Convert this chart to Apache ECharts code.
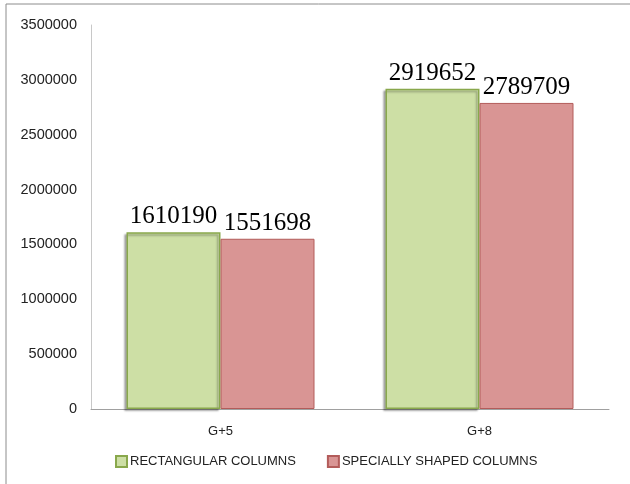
<!DOCTYPE html>
<html>
<head>
<meta charset="utf-8">
<script src="https://cdn.jsdelivr.net/npm/echarts@6/dist/echarts.min.js"></script>
<style>
html,body{margin:0;padding:0;background:#fff;}
#chart{width:630px;height:484px;}
</style>
</head>
<body>
<div id="chart"></div>
<script>
// Column categories and totals per column type
const categories = ['G+5', 'G+8'];
const rectangularColumns = [1610190, 2919652];
const speciallyShapedColumns = [1551698, 2789709];
const seriesNames = ['RECTANGULAR COLUMNS', 'SPECIALLY SHAPED COLUMNS'];

const chart = echarts.init(document.getElementById('chart'), null, {renderer: 'canvas'});

const valueLabel = {
  show: true,
  position: 'top',
  distance: 3,
  color: '#000',
  fontFamily: '"Liberation Serif", "Times New Roman", serif',
  fontSize: 25
};

const sans = '"Liberation Sans", Arial, sans-serif';

chart.setOption({
  animation: false,
  backgroundColor: '#fff',
  graphic: [{
    type: 'rect',
    shape: {x: 6, y: 4, width: 700, height: 600},
    style: {fill: 'none', stroke: '#8c8c8c', lineWidth: 1}
  }],
  grid: {left: 91, right: 21, top: 25, bottom: 75},
  legend: {
    bottom: 11,
    left: 110,
    itemWidth: 11,
    itemHeight: 11,
    itemGap: 31,
    icon: 'rect',
    textStyle: {fontFamily: sans, fontSize: 13, color: '#222', padding: [0, 0, 0, -2]},
    data: seriesNames
  },
  xAxis: {
    type: 'category',
    data: categories,
    axisLine: {lineStyle: {color: '#a0a0a0', width: 1}},
    axisTick: {show: false},
    axisLabel: {fontFamily: sans, fontSize: 13, color: '#222', margin: 16}
  },
  yAxis: {
    type: 'value',
    min: 0,
    max: 3500000,
    interval: 500000,
    splitLine: {show: false},
    axisLine: {show: true, lineStyle: {color: '#c8c8c8', width: 1}},
    axisTick: {show: false},
    axisLabel: {fontFamily: sans, fontSize: 14.5, color: '#222', margin: 14, formatter: v => String(v)}
  },
  series: [
    {
      name: seriesNames[0],
      type: 'bar',
      data: rectangularColumns,
      barWidth: 94,
      barGap: '0%',
      itemStyle: {
        color: '#cddfa5',
        borderColor: '#89a84c',
        borderWidth: 1.5,
        shadowColor: 'rgba(0,0,0,0.3)',
        shadowBlur: 2,
        shadowOffsetX: -2,
        shadowOffsetY: 2
      },
      label: valueLabel
    },
    {
      name: seriesNames[1],
      type: 'bar',
      data: speciallyShapedColumns,
      barWidth: 94,
      barGap: '0%',
      itemStyle: {
        color: '#d99594',
        borderColor: '#b35c5a',
        borderWidth: 1
      },
      label: valueLabel
    }
  ]
});
</script>
</body>
</html>
